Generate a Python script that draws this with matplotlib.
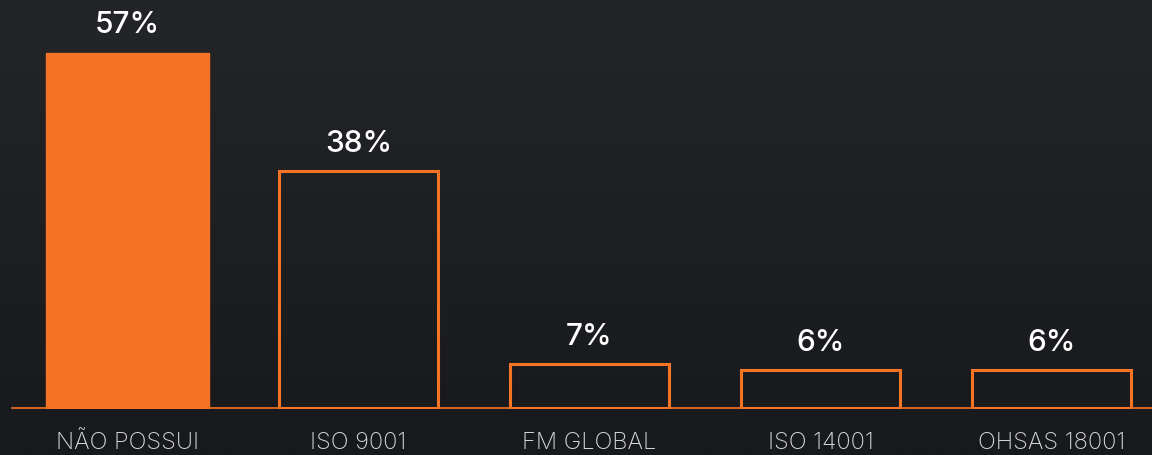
import matplotlib.pyplot as plt
import numpy as np

categories = ['NÃO POSSUI', 'ISO 9001', 'FM GLOBAL', 'ISO 14001', 'OHSAS 18001']
values = [57, 38, 7, 6, 6]
labels = ['57%', '38%', '7%', '6%', '6%']
filled = [True, False, False, False, False]

orange = '#f47324'
bg = '#1b1d20'

fig = plt.figure(figsize=(11.52, 4.56), dpi=100)
fig.patch.set_facecolor(bg)

# dark background, slightly lighter at the top like the texture
bgax = fig.add_axes([0, 0, 1, 1])
grad = np.linspace(0, 1, 256).reshape(-1, 1)
cmap = plt.matplotlib.colors.LinearSegmentedColormap.from_list('bg', ['#232528', '#17191c'])
bgax.imshow(grad, aspect='auto', cmap=cmap, extent=[0, 1, 0, 1])
bgax.axis('off')

ax = fig.add_axes([12 / 1152, 46 / 456, 1 - 12 / 1152, 406 / 456])
ax.patch.set_alpha(0)

x = np.arange(len(categories))
for xi, v, f in zip(x, values, filled):
    if f:
        ax.bar(xi, v, width=0.705, color=orange, edgecolor=orange, linewidth=1, zorder=3)
    else:
        ax.bar(xi, v, width=0.69, facecolor='none', edgecolor=orange, linewidth=2.2, zorder=3)

for xi, v, lab in zip(x, values, labels):
    ax.annotate(lab, (xi, v), xytext=(0, 10.5), textcoords='offset points',
                ha='center', va='bottom', color='white', fontsize=21.5,
                fontweight='medium', family=['Inter', 'DejaVu Sans'])

ax.axhline(0, color=orange, linewidth=1.2, zorder=2, clip_on=False)
ax.set_xlim(-0.5, 4.435)
ax.set_ylim(-0.2, 65)
ax.set_xticks(x)
ax.set_xticklabels(categories, color='#d8d8d8', fontsize=17, fontweight='light',
                   family=['Inter', 'DejaVu Sans'])
ax.tick_params(axis='x', length=0, pad=16)
ax.set_yticks([])
for s in ax.spines.values():
    s.set_visible(False)

fig.savefig('out.png', dpi=100, facecolor=bg)
